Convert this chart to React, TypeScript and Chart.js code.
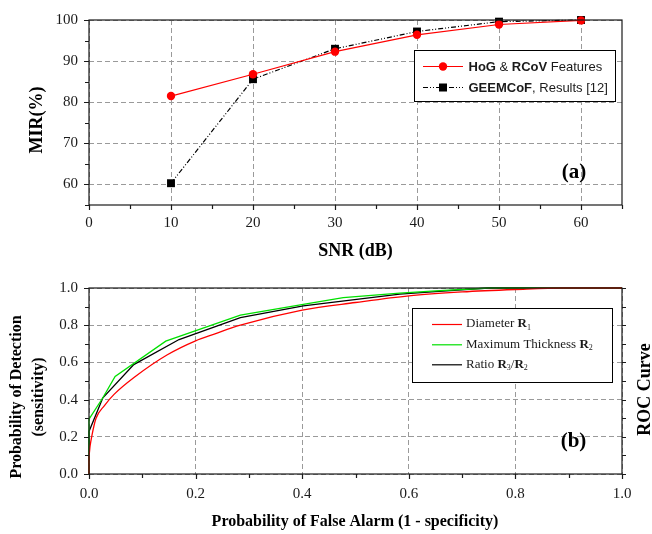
import React, { useEffect, useRef } from 'react';
import { Chart, registerables } from 'chart.js';
Chart.register(...registerables);

// ---------- Panel (a) data ----------
const snrValues = [10, 20, 30, 40, 50, 60];
const hogRcovMir = [81.5, 86.8, 92.3, 96.4, 98.9, 99.9];
const geemcofMir = [60.3, 85.6, 93.0, 97.2, 99.6, 100];
const snrTicks = [0, 10, 20, 30, 40, 50, 60];
const snrMinorTicks = [5, 15, 25, 35, 45, 55, 65];
const mirTicks = [60, 70, 80, 90, 100];
const mirMinorTicks = [55, 65, 75, 85, 95];

// ---------- Panel (b) data (ROC curves) ----------
const diameterFpr = [0, 0, 0.002, 0.005, 0.013, 0.029, 0.047, 0.085, 0.147, 0.2, 0.235, 0.284, 0.4, 0.5, 0.6, 0.7, 0.8, 0.89, 1.0];
const diameterTpr = [0, 0.1, 0.15, 0.2, 0.298, 0.368, 0.428, 0.52, 0.641, 0.716, 0.752, 0.8, 0.881, 0.922, 0.958, 0.979, 0.992, 1.0, 1.0];
const thicknessFpr = [0, 0, 0.026, 0.049, 0.144, 0.284, 0.402, 0.477, 0.583, 0.65, 0.75, 1.0];
const thicknessTpr = [0, 0.295, 0.41, 0.524, 0.714, 0.854, 0.912, 0.948, 0.972, 0.985, 1.0, 1.0];
const ratioFpr = [0, 0, 0.026, 0.084, 0.169, 0.284, 0.402, 0.583, 0.65, 0.75, 1.0];
const ratioTpr = [0, 0.229, 0.41, 0.588, 0.723, 0.841, 0.904, 0.967, 0.98, 1.0, 1.0];
const rocTicks = [0, 0.2, 0.4, 0.6, 0.8, 1.0];
const rocAllTicks = [0, 0.1, 0.2, 0.3, 0.4, 0.5, 0.6, 0.7, 0.8, 0.9, 1.0];

const SERIF = "'Liberation Serif', 'Times New Roman', serif";
const SANS = "'Liberation Sans', Arial, sans-serif";

type Part = { text: string; bold?: boolean; sub?: boolean };

function drawRich(ctx: CanvasRenderingContext2D, x: number, y: number, parts: Part[], family: string, size: number) {
  let cx = x;
  ctx.textAlign = 'left';
  ctx.textBaseline = 'middle';
  for (const p of parts) {
    const fs = p.sub ? Math.round(size * 0.62) : size;
    ctx.font = `${p.bold ? 'bold ' : ''}${fs}px ${family}`;
    ctx.fillText(p.text, cx, p.sub ? y + size * 0.3 : y);
    cx += ctx.measureText(p.text).width;
  }
}

function rotatedText(ctx: CanvasRenderingContext2D, text: string, x: number, y: number, font: string) {
  ctx.save();
  ctx.translate(x, y);
  ctx.rotate(-Math.PI / 2);
  ctx.font = font;
  ctx.textAlign = 'center';
  ctx.textBaseline = 'middle';
  ctx.fillText(text, 0, 0);
  ctx.restore();
}

function frameAndTicks(chart: any, xTicksAll: number[], xMajor: number[], yTicksAll: number[], yMajor: number[], rightTicks: number[] | null) {
  const { ctx, chartArea: a, scales } = chart;
  ctx.save();
  ctx.strokeStyle = '#1a1a1a';
  ctx.lineWidth = 1.2;
  ctx.setLineDash([]);
  ctx.strokeRect(a.left, a.top, a.right - a.left, a.bottom - a.top);
  ctx.beginPath();
  for (const v of xTicksAll) {
    const px = Math.round(scales.x.getPixelForValue(v)) + 0.5;
    const len = xMajor.includes(v) ? 5 : 4;
    ctx.moveTo(px, a.bottom);
    ctx.lineTo(px, a.bottom + len);
  }
  for (const v of yTicksAll) {
    const py = Math.round(scales.y.getPixelForValue(v)) + 0.5;
    const len = yMajor.includes(v) ? 5 : 4;
    ctx.moveTo(a.left, py);
    ctx.lineTo(a.left - len, py);
  }
  if (rightTicks) {
    for (const v of rightTicks) {
      const py = Math.round(scales.y.getPixelForValue(v)) + 0.5;
      ctx.moveTo(a.right, py);
      ctx.lineTo(a.right + 4, py);
    }
  }
  ctx.stroke();
  ctx.restore();
}

const gridOpts = { color: '#9a9a9a', drawTicks: false, lineWidth: 1 };
const borderOpts = { display: false, dash: [5, 3] };
const tickFont = { family: SERIF, size: 15 };

export default function App() {
  const topRef = useRef<HTMLCanvasElement>(null);
  const botRef = useRef<HTMLCanvasElement>(null);

  useEffect(() => {
    const topPlugin = {
      id: 'topDecor',
      afterDraw(chart: any) {
        const { ctx } = chart;
        frameAndTicks(chart, [...snrTicks, ...snrMinorTicks], snrTicks, [...mirTicks, ...mirMinorTicks], mirTicks, null);
        ctx.save();
        ctx.fillStyle = '#000';
        rotatedText(ctx, 'MIR(%)', 37, 120, `bold 18px ${SERIF}`);
        ctx.font = `bold 18px ${SERIF}`;
        ctx.textAlign = 'center';
        ctx.textBaseline = 'middle';
        ctx.fillText('SNR (dB)', 355.5, 251);
        ctx.font = `bold 21px ${SERIF}`;
        ctx.fillText('(a)', 574, 173);
        // legend
        const bx = 414.5, by = 50.5, bw = 201, bh = 51;
        ctx.fillStyle = '#fff';
        ctx.fillRect(bx, by, bw, bh);
        ctx.strokeStyle = '#000';
        ctx.lineWidth = 1;
        ctx.strokeRect(bx, by, bw, bh);
        // row 1
        ctx.strokeStyle = '#ff0000';
        ctx.lineWidth = 1.2;
        ctx.beginPath();
        ctx.moveTo(423, 66.5);
        ctx.lineTo(463, 66.5);
        ctx.stroke();
        ctx.fillStyle = '#ff0000';
        ctx.beginPath();
        ctx.arc(443, 66.5, 4.2, 0, Math.PI * 2);
        ctx.fill();
        ctx.fillStyle = '#1a1a1a';
        drawRich(ctx, 468.5, 67, [
          { text: 'HoG', bold: true },
          { text: ' & ' },
          { text: 'RCoV', bold: true },
          { text: ' Features' },
        ], SANS, 13);
        // row 2
        ctx.strokeStyle = '#000';
        ctx.setLineDash([5, 2, 1, 2, 1, 2]);
        ctx.beginPath();
        ctx.moveTo(423, 87.5);
        ctx.lineTo(463, 87.5);
        ctx.stroke();
        ctx.setLineDash([]);
        ctx.fillStyle = '#000';
        ctx.fillRect(439, 83.5, 8, 8);
        ctx.fillStyle = '#1a1a1a';
        drawRich(ctx, 468.5, 88, [
          { text: 'GEEMCoF', bold: true },
          { text: ', Results [12]' },
        ], SANS, 13);
        ctx.restore();
      },
    };

    const c1 = new Chart(topRef.current as HTMLCanvasElement, {
      type: 'line',
      data: {
        datasets: [
          {
            label: 'HoG & RCoV Features',
            data: snrValues.map((x, i) => ({ x, y: hogRcovMir[i] })),
            borderColor: '#ff0000',
            backgroundColor: '#ff0000',
            borderWidth: 1.2,
            pointStyle: 'circle',
            pointRadius: 4.2,
            pointBorderWidth: 0,
            clip: false,
          },
          {
            label: 'GEEMCoF, Results [12]',
            data: snrValues.map((x, i) => ({ x, y: geemcofMir[i] })),
            borderColor: '#000',
            backgroundColor: '#000',
            borderWidth: 1.2,
            borderDash: [5, 2, 1, 2, 1, 2],
            pointStyle: 'rect',
            pointRadius: 5.6,
            pointBorderWidth: 0,
            clip: false,
          },
        ],
      } as any,
      options: {
        animation: false,
        responsive: false,
        maintainAspectRatio: false,
        layout: { padding: { left: 0, right: 30, top: 14, bottom: 0 } },
        plugins: { legend: { display: false }, tooltip: { enabled: false } },
        scales: {
          x: {
            type: 'linear',
            min: 0,
            max: 65,
            afterBuildTicks: (s: any) => { s.ticks = snrTicks.map((v) => ({ value: v })); },
            afterFit: (s: any) => { s.height = 63; },
            ticks: { font: tickFont, color: '#1a1a1a', padding: 9, maxRotation: 0, autoSkip: false },
            grid: gridOpts,
            border: borderOpts,
          },
          y: {
            type: 'linear',
            min: 55,
            max: 100,
            afterBuildTicks: (s: any) => { s.ticks = mirTicks.map((v) => ({ value: v })); },
            afterFit: (s: any) => { s.width = 89; },
            ticks: { font: tickFont, color: '#1a1a1a', padding: 11, autoSkip: false },
            grid: gridOpts,
            border: borderOpts,
          },
        },
      } as any,
      plugins: [topPlugin],
    });

    const botPlugin = {
      id: 'botDecor',
      afterDraw(chart: any) {
        const { ctx } = chart;
        frameAndTicks(chart, rocAllTicks, rocTicks, rocAllTicks, rocTicks, rocAllTicks);
        ctx.save();
        ctx.fillStyle = '#000';
        rotatedText(ctx, 'Probability of Detection', 17, 129, `bold 16px ${SERIF}`);
        rotatedText(ctx, '(sensitivity)', 39, 129, `bold 16px ${SERIF}`);
        rotatedText(ctx, 'ROC Curve', 645, 121.5, `bold 18px ${SERIF}`);
        ctx.font = `bold 16px ${SERIF}`;
        ctx.textAlign = 'center';
        ctx.textBaseline = 'middle';
        ctx.fillText('Probability of False Alarm (1 - specificity)', 355, 253.5);
        ctx.font = `bold 21px ${SERIF}`;
        ctx.fillText('(b)', 573.5, 173.5);
        // legend
        const bx = 412.5, by = 40.5, bw = 200, bh = 74;
        ctx.fillStyle = '#fff';
        ctx.fillRect(bx, by, bw, bh);
        ctx.strokeStyle = '#000';
        ctx.lineWidth = 1;
        ctx.strokeRect(bx, by, bw, bh);
        const rows: { color: string; y: number; parts: Part[] }[] = [
          { color: '#ff0000', y: 56, parts: [{ text: 'Diameter ' }, { text: 'R', bold: true }, { text: '1', sub: true }] },
          { color: '#00e000', y: 76.3, parts: [{ text: 'Maximum Thickness ' }, { text: 'R', bold: true }, { text: '2', sub: true }] },
          { color: '#000', y: 96.3, parts: [{ text: 'Ratio ' }, { text: 'R', bold: true }, { text: '3', sub: true }, { text: '/' }, { text: 'R', bold: true }, { text: '2', sub: true }] },
        ];
        for (const r of rows) {
          ctx.strokeStyle = r.color;
          ctx.lineWidth = 1.2;
          ctx.beginPath();
          ctx.moveTo(432, r.y + 0.5);
          ctx.lineTo(462, r.y + 0.5);
          ctx.stroke();
          ctx.fillStyle = '#1a1a1a';
          drawRich(ctx, 466, r.y, r.parts, SERIF, 13);
        }
        ctx.restore();
      },
    };

    const c2 = new Chart(botRef.current as HTMLCanvasElement, {
      type: 'line',
      data: {
        datasets: [
          {
            label: 'Diameter R1',
            data: diameterFpr.map((x, i) => ({ x, y: diameterTpr[i] })),
            borderColor: '#ff0000',
            borderWidth: 1.3,
            pointRadius: 0,
            cubicInterpolationMode: 'monotone',
            clip: false,
          },
          {
            label: 'Maximum Thickness R2',
            data: thicknessFpr.map((x, i) => ({ x, y: thicknessTpr[i] })),
            borderColor: '#00e000',
            borderWidth: 1.3,
            pointRadius: 0,
            tension: 0,
            clip: false,
          },
          {
            label: 'Ratio R3/R2',
            data: ratioFpr.map((x, i) => ({ x, y: ratioTpr[i] })),
            borderColor: '#000',
            borderWidth: 1.3,
            pointRadius: 0,
            tension: 0,
            clip: false,
          },
        ],
      } as any,
      options: {
        animation: false,
        responsive: false,
        maintainAspectRatio: false,
        layout: { padding: { left: 0, right: 30, top: 14, bottom: 0 } },
        plugins: { legend: { display: false }, tooltip: { enabled: false } },
        scales: {
          x: {
            type: 'linear',
            min: 0,
            max: 1,
            afterBuildTicks: (s: any) => { s.ticks = rocTicks.map((v) => ({ value: v })); },
            afterFit: (s: any) => { s.height = 60; },
            ticks: { font: tickFont, color: '#1a1a1a', padding: 11, maxRotation: 0, autoSkip: false, callback: (v: any) => Number(v).toFixed(1) },
            grid: gridOpts,
            border: borderOpts,
          },
          y: {
            type: 'linear',
            min: 0,
            max: 1,
            afterBuildTicks: (s: any) => { s.ticks = rocTicks.map((v) => ({ value: v })); },
            afterFit: (s: any) => { s.width = 89; },
            ticks: { font: tickFont, color: '#1a1a1a', padding: 11, autoSkip: false, callback: (v: any) => Number(v).toFixed(1) },
            grid: gridOpts,
            border: borderOpts,
          },
        },
      } as any,
      plugins: [botPlugin],
    });

    return () => {
      c1.destroy();
      c2.destroy();
    };
  }, []);

  return (
    <div style={{ position: 'absolute', left: 0, top: 0, width: 652, height: 534, background: '#fff' }}>
      <canvas ref={topRef} width={652} height={268} style={{ position: 'absolute', left: 0, top: 0, display: 'block' }} />
      <canvas ref={botRef} width={652} height={266} style={{ position: 'absolute', left: 0, top: 268, display: 'block' }} />
    </div>
  );
}
